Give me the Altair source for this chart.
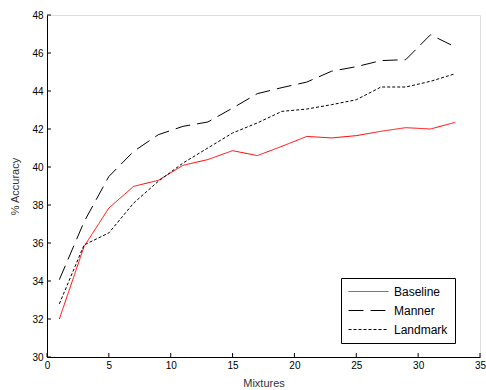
import altair as alt
import pandas as pd

mixtures = [1, 3, 5, 7, 9, 11, 13, 15, 17, 19, 21, 23, 25, 27, 29, 31, 33]
baseline = [32.0, 35.82, 37.84, 38.98, 39.3, 40.09, 40.39, 40.86, 40.6, 41.09, 41.61, 41.53, 41.65, 41.88, 42.07, 42.0, 42.35]
manner = [34.07, 37.12, 39.5, 40.82, 41.7, 42.14, 42.37, 43.1, 43.86, 44.18, 44.47, 45.04, 45.28, 45.6, 45.65, 46.96, 46.32]
landmark = [32.8, 35.9, 36.53, 38.1, 39.25, 40.21, 41.0, 41.79, 42.32, 42.93, 43.05, 43.28, 43.54, 44.21, 44.21, 44.51, 44.91]
series = ["Baseline", "Manner", "Landmark"]
xticks = [0, 5, 10, 15, 20, 25, 30, 35]
yticks = [30, 32, 34, 36, 38, 40, 42, 44, 46, 48]

rows = []
for name, vals in zip(series, [baseline, manner, landmark]):
    for m, v in zip(mixtures, vals):
        rows.append({"Mixtures": m, "Accuracy": v, "Series": name})
df = pd.DataFrame(rows)

W, H = 433, 342
FONT = "Liberation Sans"

xs = alt.Scale(domain=[0, 35], nice=False, zero=False)
ys = alt.Scale(domain=[30, 48], nice=False, zero=False)

xaxis = alt.Axis(values=xticks, title="Mixtures", tickSize=0, labelPadding=3,
                 grid=False, domainColor="black", labelColor="black",
                 labelOverlap=False, labelFlush=False,
                 titleColor="#333333", titleFontWeight="normal", titlePadding=7)
yaxis = alt.Axis(values=yticks, title="% Accuracy", tickSize=0, labelPadding=4,
                 grid=False, domainColor="black", labelColor="black",
                 labelOverlap=False, labelFlush=False,
                 titleColor="#333333", titleFontWeight="normal", titlePadding=11)

leg = dict(title=None, orient="none", legendX=294, legendY=263,
           symbolType="stroke", symbolSize=1600, symbolStrokeWidth=1, clipHeight=13,
           strokeColor="black", fillColor="white", padding=7,
           rowPadding=6, labelFontSize=12, labelFont=FONT,
           labelColor="black", labelOffset=5, cornerRadius=0)

lines = alt.Chart(df).mark_line(strokeWidth=1, clip=True).encode(
    x=alt.X("Mixtures:Q", scale=xs, axis=xaxis, title="Mixtures"),
    y=alt.Y("Accuracy:Q", scale=ys, axis=yaxis, title="% Accuracy"),
    color=alt.Color("Series:N", scale=alt.Scale(domain=series, range=["#ff0000", "black", "black"]),
                    legend=alt.Legend(**leg)),
    strokeDash=alt.StrokeDash("Series:N", scale=alt.Scale(domain=series, range=[[1, 0], [15, 7], [3, 2]]),
                              legend=alt.Legend(**leg)),
)

xt = alt.Chart(pd.DataFrame({"t": xticks})).mark_rule(color="black", strokeWidth=1).encode(
    x=alt.X("t:Q", scale=xs, axis=xaxis, title="Mixtures"), y=alt.value(H), y2=alt.value(H - 4))
yt = alt.Chart(pd.DataFrame({"t": yticks})).mark_rule(color="black", strokeWidth=1).encode(
    y=alt.Y("t:Q", scale=ys, axis=yaxis, title="% Accuracy"), x=alt.value(0), x2=alt.value(4))

chart = alt.layer(lines, xt, yt).properties(
    width=W, height=H,
    autosize=alt.AutoSizeParams(type="none"),
    padding={"left": 47, "top": 15, "right": 6, "bottom": 33},
).configure_view(stroke=None).configure_axis(
    labelFont=FONT, titleFont=FONT, labelFontSize=11, titleFontSize=12,
).configure(background="white")

chart.save("out.html", embed_options={"renderer": "svg", "actions": False})
